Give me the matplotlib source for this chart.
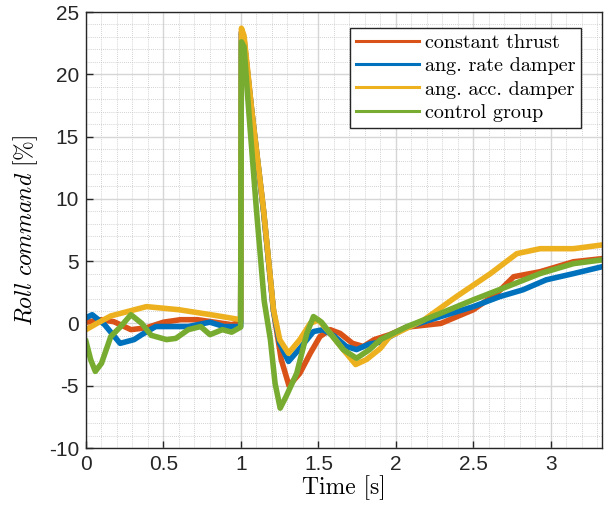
import matplotlib
matplotlib.use("Agg")
import matplotlib.pyplot as plt
from matplotlib.ticker import MultipleLocator

# ---- data ----
t_red = [0, 0.1, 0.18, 0.29, 0.39, 0.5, 0.61, 0.72, 0.83, 0.94, 0.998, 1.003, 1.02, 1.07, 1.146,
         1.21, 1.26, 1.31, 1.38, 1.447, 1.51, 1.576, 1.64, 1.72, 1.79, 1.86, 1.96, 2.07, 2.29,
         2.5, 2.65, 2.76, 2.93, 3.146, 3.33]
v_red = [0.1, 0.3, 0.14, -0.5, -0.35, 0.1, 0.3, 0.3, 0.1, -0.1, 0.1, 23.4, 22.8, 17.0, 9.0,
         1.0, -2.9, -5.0, -4.0, -2.4, -1.05, -0.5, -0.8, -1.6, -1.85, -1.3, -0.9, -0.3, 0.0,
         1.1, 2.4, 3.75, 4.15, 4.95, 5.2]

t_blue = [0, 0.04, 0.12, 0.22, 0.31, 0.36, 0.45, 0.56, 0.66, 0.8, 0.89, 0.998, 1.003, 1.02, 1.07,
          1.146, 1.21, 1.25, 1.307, 1.38, 1.468, 1.53, 1.6, 1.68, 1.746, 1.83, 1.9, 2.07, 2.29,
          2.5, 2.67, 2.82, 2.97, 3.146, 3.33]
v_blue = [0.45, 0.7, -0.1, -1.6, -1.3, -0.9, -0.25, -0.25, -0.25, 0.1, -0.25, -0.25, 23.3, 22.6, 17.0,
          9.0, 1.0, -1.6, -3.05, -2.0, -0.65, -0.5, -1.0, -1.85, -2.1, -1.65, -1.5, -0.3, 0.55,
          1.35, 2.15, 2.7, 3.5, 4.0, 4.55]

t_yel = [0, 0.07, 0.16, 0.39, 0.6, 0.83, 0.998, 1.003, 1.02, 1.07, 1.146, 1.21, 1.25, 1.307,
         1.38, 1.447, 1.5, 1.576, 1.66, 1.74, 1.81, 1.9, 1.96, 2.18, 2.39, 2.61, 2.78, 2.93,
         3.146, 3.33]
v_yel = [-0.5, 0.0, 0.6, 1.35, 1.1, 0.65, 0.3, 23.7, 23.1, 17.1, 9.1, 1.1, -1.3, -2.4,
         -1.3, 0.0, 0.28, -0.8, -2.1, -3.3, -2.9, -2.0, -1.05, 0.28, 2.15, 4.0, 5.6, 6.0,
         6.0, 6.3]

t_grn = [0, 0.03, 0.06, 0.1, 0.16, 0.22, 0.29, 0.36, 0.42, 0.52, 0.58, 0.66, 0.74, 0.8, 0.88,
         0.94, 0.998, 1.003, 1.02, 1.05, 1.10, 1.15, 1.19, 1.22, 1.253, 1.29, 1.36, 1.425, 1.468,
         1.52, 1.576, 1.66, 1.746, 1.83, 1.9, 2.07, 2.286, 2.5, 2.717, 2.93, 3.146, 3.33]
v_grn = [-1.45, -2.9, -3.85, -3.2, -1.05, -0.3, 0.7, 0.0, -0.95, -1.3, -1.2, -0.5, -0.25, -0.9, -0.5,
         -0.7, -0.3, 22.6, 22.2, 17.1, 9.1, 1.8, -1.3, -4.8, -6.8, -5.9, -4.0, -0.8, 0.55,
         0.1, -0.8, -2.1, -2.8, -2.1, -1.3, -0.26, 0.8, 1.9, 2.95, 4.0, 4.8, 5.1]

labels = ["constant thrust", "ang. rate damper", "ang. acc. damper", "control group"]
colors = ["#D95319", "#0072BD", "#EDB120", "#77AC30"]

x_ticks = [0, 0.5, 1, 1.5, 2, 2.5, 3]
y_ticks = [-10, -5, 0, 5, 10, 15, 20, 25]

plt.rcParams["mathtext.fontset"] = "cm"

fig = plt.figure(figsize=(6.09, 5.12), dpi=100)
ax = fig.add_axes([86 / 609, 1 - 448 / 512, (602 - 86) / 609, (448 - 12) / 512])

series = [(t_red, v_red), (t_blue, v_blue), (t_yel, v_yel), (t_grn, v_grn)]
for (t, v), c, lab in zip(series, colors, labels):
    ax.plot(t, v, color=c, lw=4.0, label=lab, solid_joinstyle="round")

ax.set_xlim(0, 3.33)
ax.set_ylim(-10, 25)
ax.set_xticks(x_ticks)
ax.set_yticks(y_ticks)
ax.set_xticklabels([f"{x:g}" for x in x_ticks], fontfamily="Liberation Sans", fontsize=15)
ax.set_yticklabels([f"{y:g}" for y in y_ticks], fontfamily="Liberation Sans", fontsize=15)
ax.xaxis.set_minor_locator(MultipleLocator(0.1))
ax.yaxis.set_minor_locator(MultipleLocator(1))
ax.grid(which="major", color="#d6d6d6", lw=1.0)
ax.grid(which="minor", color="#c4c4c4", lw=0.6, ls=(0, (1, 1.5)))
ax.set_axisbelow(True)
ax.tick_params(which="both", direction="in", top=False, right=False, colors="#262626")
ax.tick_params(which="major", length=5, width=1, pad=5)
ax.tick_params(which="minor", length=0)
for s in ax.spines.values():
    s.set_color("#262626")
    s.set_linewidth(1.0)

ax.set_xlabel("Time [s]", fontfamily="cmr10", fontsize=17, labelpad=1)
ax.set_ylabel(r"$Roll\ command\ [\%]$", fontsize=17, labelpad=6)

leg = ax.legend(loc="upper right", bbox_to_anchor=(0.96, 0.963), prop={"family": "cmr10", "size": 14.5},
                frameon=True, fancybox=False, edgecolor="#262626", framealpha=1,
                handlelength=3.1, borderpad=0.3, labelspacing=0.25, handletextpad=0.3,
                borderaxespad=0)
leg.get_frame().set_linewidth(1.0)
for h in leg.get_lines():
    h.set_linewidth(2.2)

fig.savefig("out.png", dpi=100)
